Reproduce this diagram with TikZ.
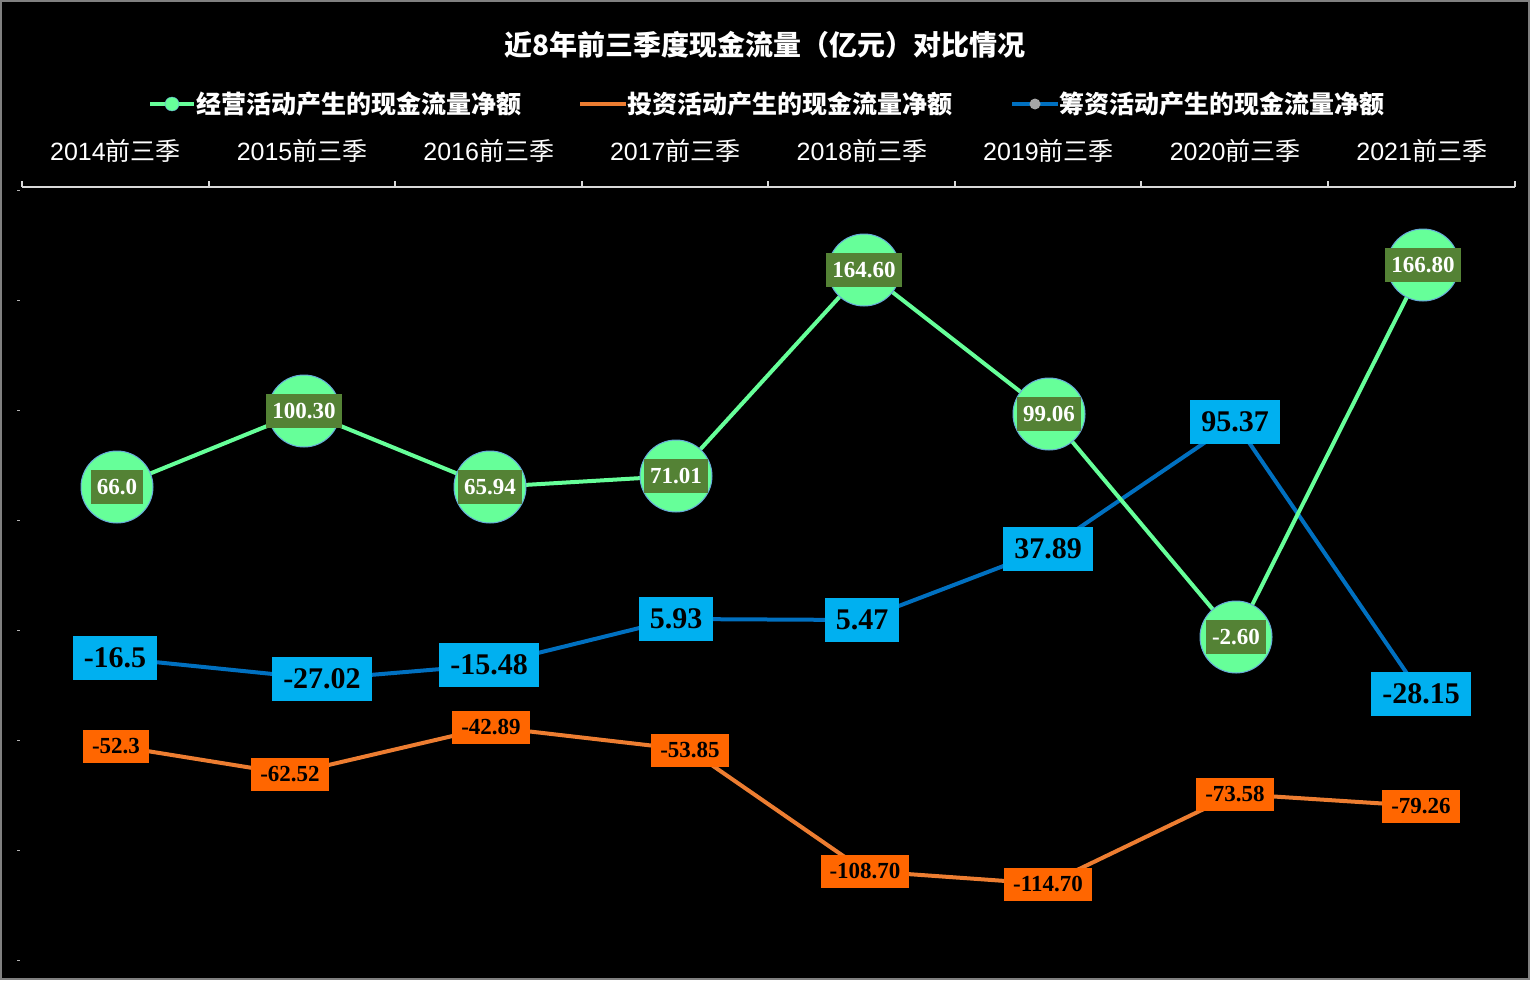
\documentclass[tikz,border=0pt]{standalone}
\usepackage{fontspec}
\usepackage{xcolor}
\setmainfont{Liberation Serif}
\setsansfont{Liberation Sans}
\newfontfamily\cjk{Noto Sans CJK SC}
\usetikzlibrary{calc}
\definecolor{opgreen}{HTML}{66FF99}
\definecolor{opdark}{HTML}{548235}
\definecolor{invline}{HTML}{ED7D31}
\definecolor{invbox}{HTML}{FF6600}
\definecolor{finline}{HTML}{0070C0}
\definecolor{finbox}{HTML}{00B0F0}
\tikzset{
	opdot/.style={circle, fill=opgreen, draw=finline!60, line width=1pt, minimum size=72pt, inner sep=0pt},
	oplabel/.style={fill=opdark, text=white, font=\bfseries\fontsize{23}{23}\selectfont, inner xsep=6pt, minimum height=34pt},
	finlabel/.style={fill=finbox, text=black, font=\bfseries\fontsize{30}{30}\selectfont, inner xsep=11pt, minimum height=44pt},
	invlabel/.style={fill=invbox, text=black, font=\bfseries\fontsize{23}{23}\selectfont, inner xsep=9pt, minimum height=33pt},
	catlabel/.style={text=white, font=\sffamily\fontsize{25}{25}\selectfont}
}
\begin{document}
\begin{tikzpicture}[x=1pt, y=-1pt]

	\fill[black] (0,0) rectangle (1530,980);
	\draw[gray, line width=1.5pt] (1,1) rectangle (1529,979);
	\useasboundingbox (0,0) rectangle (1530,980);

	\node[text=white, font=\cjk\bfseries\fontsize{28}{28}\selectfont] (title) at (765,45) {近8年前三季度现金流量（亿元）对比情况};

	% legend
	\draw[opgreen, line width=4pt] (150,104) -- (194,104);
	\node[circle, fill=opgreen, draw=finline!60, minimum size=14pt, inner sep=0pt] (lgop) at (172,104) {};
	\node[right, text=white, font=\cjk\bfseries\fontsize{25}{25}\selectfont, inner sep=1pt] (lgoptext) at (195,104) {经营活动产生的现金流量净额};
	\draw[invline, line width=4pt] (580,104) -- (626,104);
	\node[right, text=white, font=\cjk\bfseries\fontsize{25}{25}\selectfont, inner sep=1pt] (lginvtext) at (626,104) {投资活动产生的现金流量净额};
	\draw[finline, line width=4pt] (1012,104) -- (1058,104);
	\node[circle, fill=gray!70, minimum size=11pt, inner sep=0pt] (lgfin) at (1035,104) {};
	\node[right, text=white, font=\cjk\bfseries\fontsize{25}{25}\selectfont, inner sep=1pt] (lgfintext) at (1058,104) {筹资活动产生的现金流量净额};

	% axis
	\draw[white!85!black, line width=1.2pt] (22,187) -- (1515,187);
	\foreach \x in {22,209,395,582,768,955,1141,1328,1515}
		\draw[white!85!black, line width=1.2pt] (\x,187) -- (\x,181);
	\foreach \y in {190,300,410,520,630,740,850,960}
		\draw[white!70!black] (17,\y) -- (20,\y);
	\foreach \yr [count=\i] in {2014,...,2021}
		\node[catlabel] (cat\i) at ({115.5+186.6*(\i-1)},151) {\yr{\cjk 前三季}};

	% investing
	\foreach \x/\y/\v [count=\i] in {116/746/-52.3, 290/774/-62.52, 491/727/-42.89, 690/750/-53.85,
		865/871/-108.70, 1048/884/-114.70, 1235/794/-73.58, 1421/806/-79.26}
		\coordinate (inv\i) at (\x,\y);
	\draw[invline, line width=4pt] (inv1) -- (inv2) -- (inv3) -- (inv4) -- (inv5) -- (inv6) -- (inv7) -- (inv8);
	\foreach \x/\y/\v [count=\i] in {116/746/-52.3, 290/774/-62.52, 491/727/-42.89, 690/750/-53.85,
		865/871/-108.70, 1048/884/-114.70, 1235/794/-73.58, 1421/806/-79.26}
		\node[invlabel] (invl\i) at (inv\i) {\v};

	% financing
	\foreach \x/\y [count=\i] in {115/658, 322/679, 489/665, 676/619, 862/620, 1048/549, 1235/422, 1421/694}
		\coordinate (fin\i) at (\x,\y);
	\draw[finline, line width=4pt] (fin1) -- (fin2) -- (fin3) -- (fin4) -- (fin5) -- (fin6) -- (fin7) -- (fin8);
	\foreach \v [count=\i] in {-16.5, -27.02, -15.48, 5.93, 5.47, 37.89, 95.37, -28.15}
		\node[finlabel] (finl\i) at (fin\i) {\v};

	% operating
	\foreach \x/\y [count=\i] in {117/487, 304/411, 490/487, 676/476, 864/270, 1049/414, 1236/637, 1423/265}
		\coordinate (op\i) at (\x,\y);
	\draw[opgreen, line width=4pt] (op1) -- (op2) -- (op3) -- (op4) -- (op5) -- (op6) -- (op7) -- (op8);
	\foreach \v [count=\i] in {66.0, 100.30, 65.94, 71.01, 164.60, 99.06, -2.60, 166.80}
	{
		\node[opdot] (opd\i) at (op\i) {};
		\node[oplabel] (opl\i) at (op\i) {\v};
	}

\end{tikzpicture}
\end{document}
